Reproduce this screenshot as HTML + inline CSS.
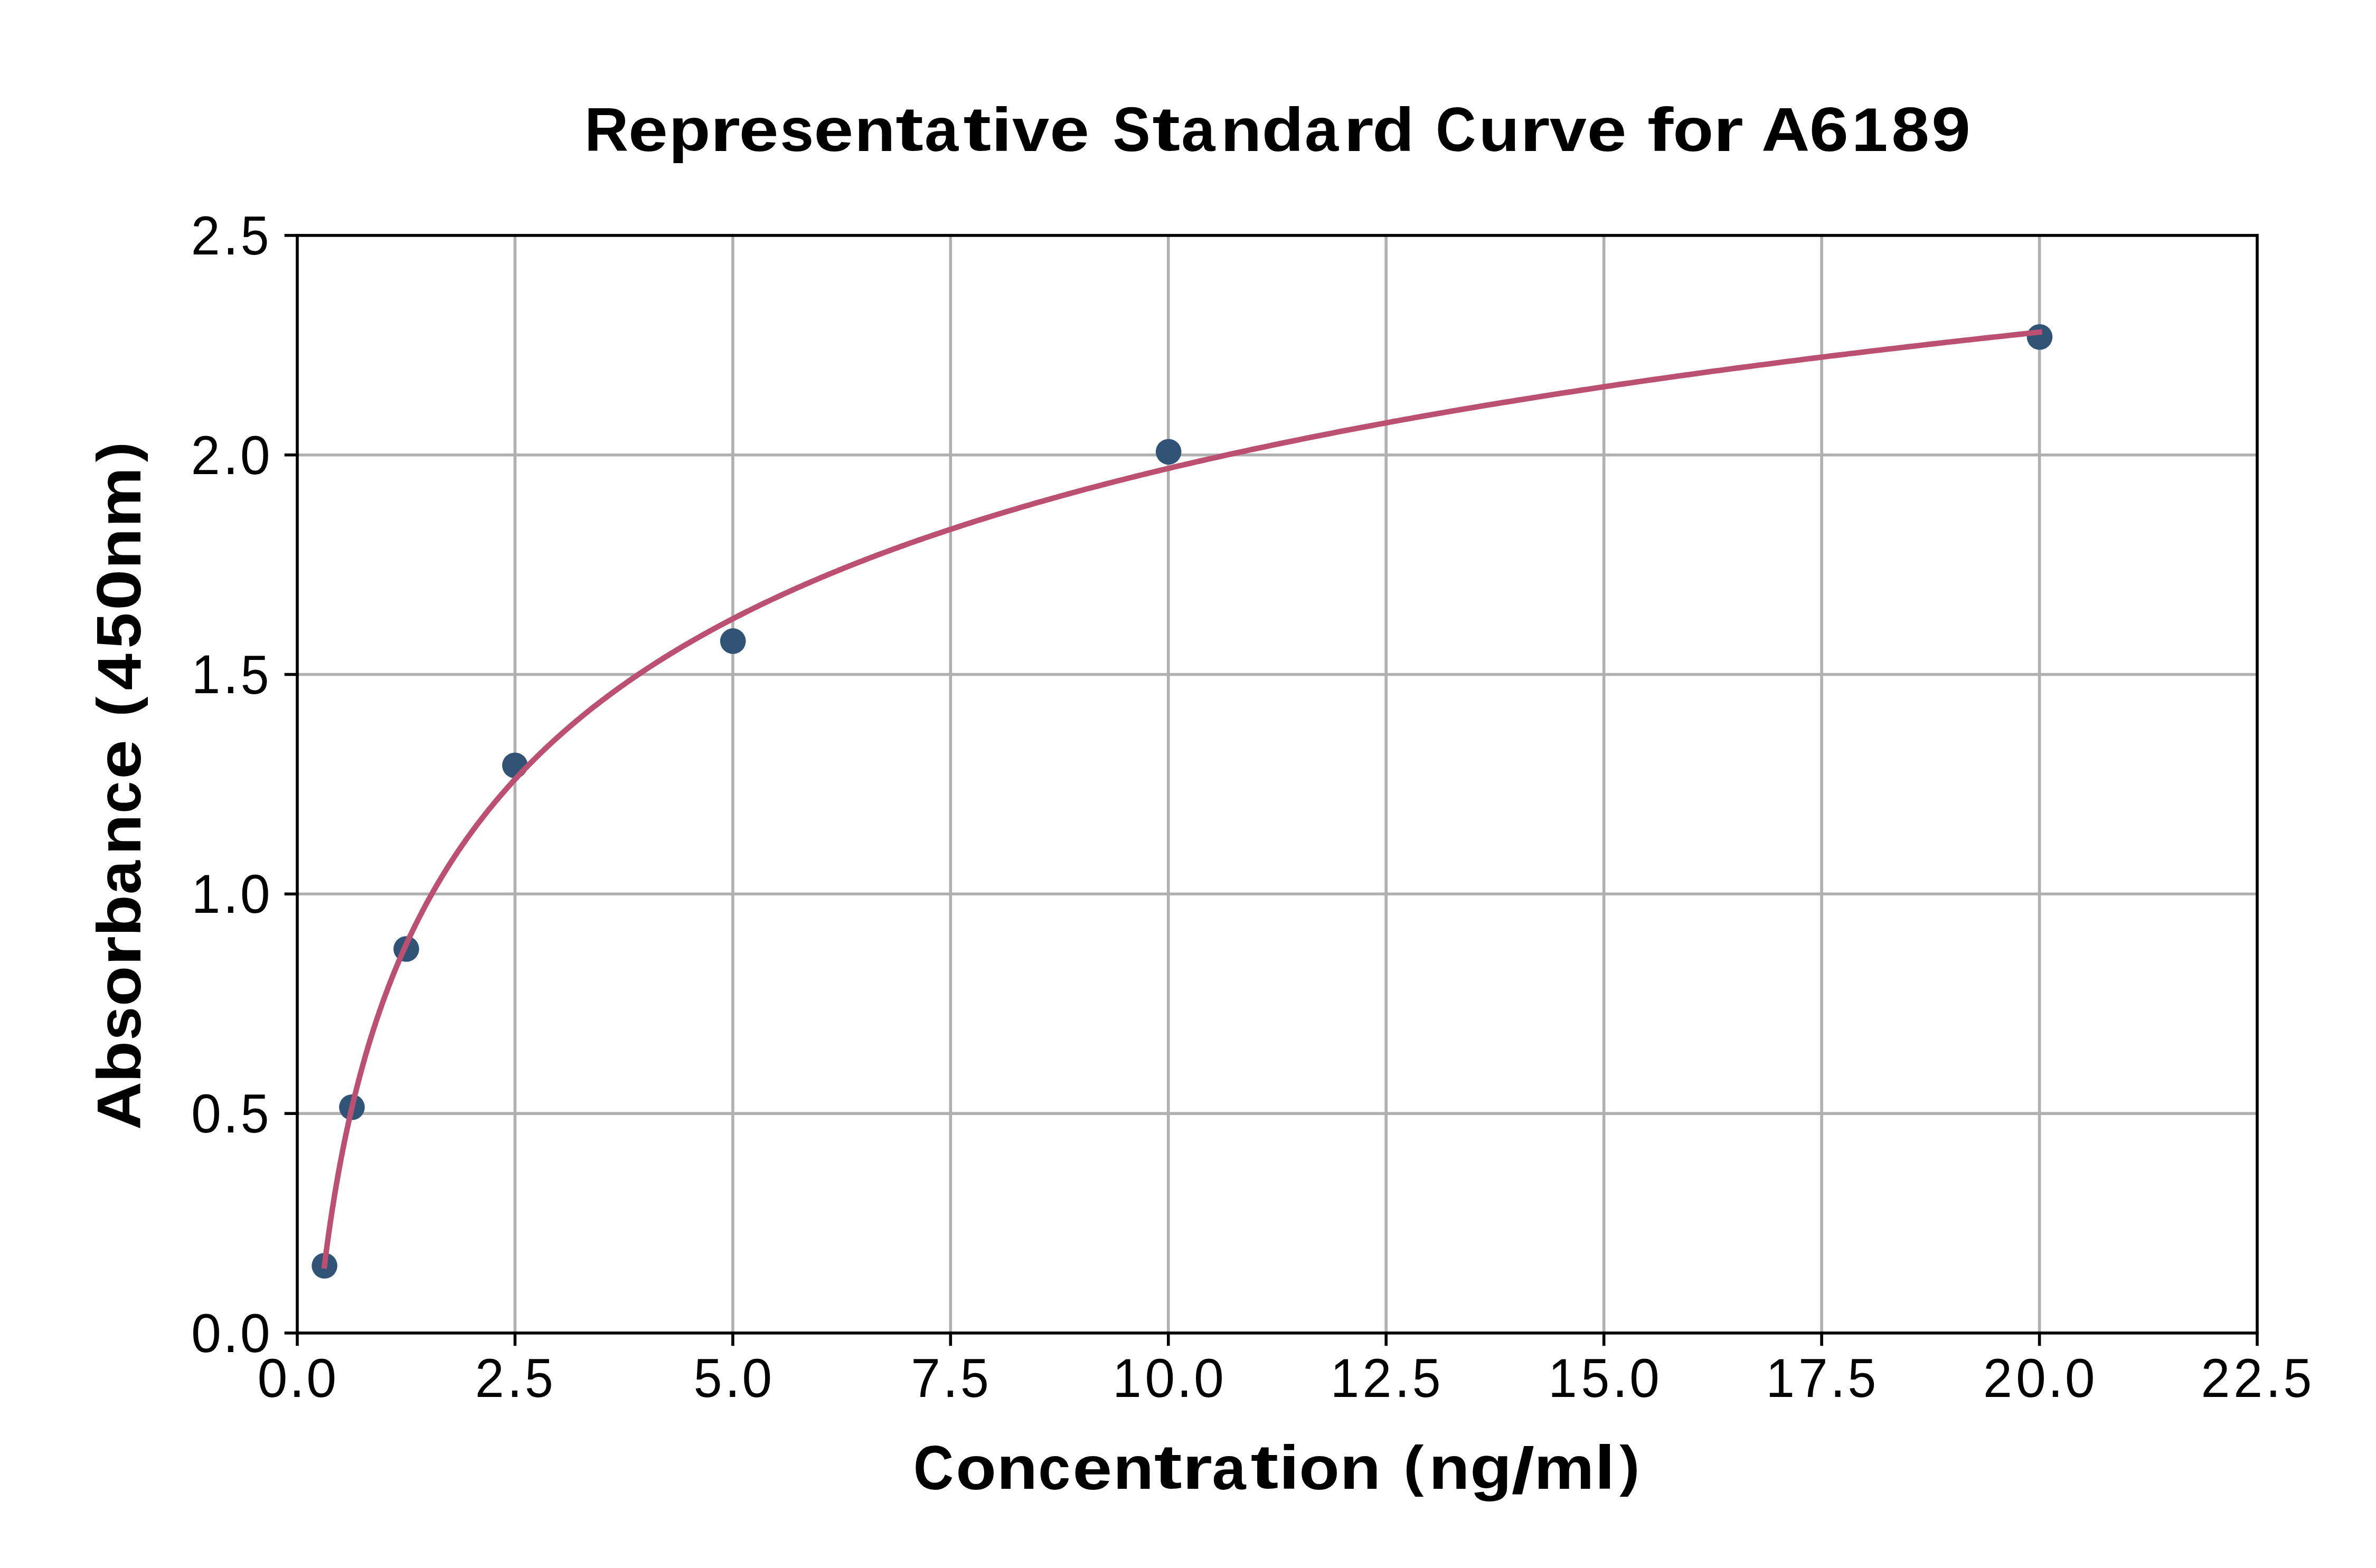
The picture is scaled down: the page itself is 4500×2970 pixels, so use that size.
<!DOCTYPE html>
<html><head><meta charset="utf-8"><title>Representative Standard Curve for A6189</title><style>
html,body{margin:0;padding:0;background:#fff;overflow:hidden;}
svg{display:block;}
text{font-family:"Liberation Sans",sans-serif;fill:#000;}
</style></head><body>
<svg width="4500" height="2970" viewBox="0 0 4500 2970">
<rect width="4500" height="2970" fill="#fff"/>
<g stroke="#b0b0b0" stroke-width="5.6"><line x1="975.4" y1="445.9" x2="975.4" y2="2524.9"/><line x1="1387.9" y1="445.9" x2="1387.9" y2="2524.9"/><line x1="1800.3" y1="445.9" x2="1800.3" y2="2524.9"/><line x1="2212.8" y1="445.9" x2="2212.8" y2="2524.9"/><line x1="2625.2" y1="445.9" x2="2625.2" y2="2524.9"/><line x1="3037.7" y1="445.9" x2="3037.7" y2="2524.9"/><line x1="3450.1" y1="445.9" x2="3450.1" y2="2524.9"/><line x1="3862.6" y1="445.9" x2="3862.6" y2="2524.9"/><line x1="563.0" y1="2109.1" x2="4275.0" y2="2109.1"/><line x1="563.0" y1="1693.3" x2="4275.0" y2="1693.3"/><line x1="563.0" y1="1277.5" x2="4275.0" y2="1277.5"/><line x1="563.0" y1="861.7" x2="4275.0" y2="861.7"/></g>
<g fill="#315376"><circle cx="614.6" cy="2397.5" r="24.3"/><circle cx="666.5" cy="2097.2" r="24.3"/><circle cx="769.5" cy="1797.5" r="24.3"/><circle cx="975.3" cy="1449.8" r="24.3"/><circle cx="1388.2" cy="1214.4" r="24.3"/><circle cx="2213.2" cy="855.7" r="24.3"/><circle cx="3863" cy="638.3" r="24.3"/></g>
<polyline fill="none" stroke="#bc5073" stroke-width="10.4" stroke-linejoin="round" stroke-linecap="butt" points="613.8,2402.9 614.0,2401.0 614.3,2399.0 614.5,2397.1 614.8,2395.2 615.0,2393.3 615.2,2391.3 615.5,2389.4 615.7,2387.5 616.0,2385.5 616.2,2383.6 616.5,2381.7 616.7,2379.8 617.0,2377.8 617.2,2375.9 617.5,2373.9 617.7,2372.0 618.0,2370.1 618.2,2368.1 618.5,2366.2 618.8,2364.3 619.0,2362.3 619.3,2360.4 619.5,2358.4 619.8,2356.5 620.1,2354.5 620.3,2352.6 620.6,2350.6 620.9,2348.7 621.1,2346.7 621.4,2344.8 621.7,2342.8 622.0,2340.9 622.2,2338.9 622.5,2337.0 622.8,2335.0 623.1,2333.1 623.3,2331.1 623.6,2329.2 623.9,2327.2 624.2,2325.2 624.5,2323.3 624.8,2321.3 625.0,2319.4 625.3,2317.4 625.6,2315.4 625.9,2313.5 626.2,2311.5 626.5,2309.5 626.8,2307.6 627.1,2305.6 627.4,2303.6 627.7,2301.7 628.0,2299.7 628.3,2297.7 628.6,2295.7 628.9,2293.8 629.2,2291.8 629.5,2289.8 629.8,2287.8 630.1,2285.9 630.5,2283.9 630.8,2281.9 631.1,2279.9 631.4,2277.9 631.7,2276.0 632.0,2274.0 632.4,2272.0 632.7,2270.0 633.0,2268.0 633.3,2266.0 633.7,2264.0 634.0,2262.1 634.3,2260.1 634.7,2258.1 635.0,2256.1 635.3,2254.1 635.7,2252.1 636.0,2250.1 636.3,2248.1 636.7,2246.1 637.0,2244.1 637.4,2242.1 637.7,2240.1 638.1,2238.1 638.4,2236.1 638.8,2234.1 639.1,2232.1 639.5,2230.1 639.8,2228.1 640.2,2226.1 640.5,2224.1 640.9,2222.1 641.3,2220.1 641.6,2218.1 642.0,2216.1 642.4,2214.1 642.7,2212.1 643.1,2210.1 643.5,2208.1 643.8,2206.0 644.2,2204.0 644.6,2202.0 645.0,2200.0 645.4,2198.0 645.7,2196.0 646.1,2194.0 646.5,2191.9 646.9,2189.9 647.3,2187.9 647.7,2185.9 648.1,2183.9 648.5,2181.9 648.9,2179.8 649.3,2177.8 649.7,2175.8 650.1,2173.8 650.5,2171.7 650.9,2169.7 651.3,2167.7 651.7,2165.7 652.1,2163.6 652.5,2161.6 653.0,2159.6 653.4,2157.6 653.8,2155.5 654.2,2153.5 654.6,2151.5 655.1,2149.4 655.5,2147.4 655.9,2145.4 656.4,2143.3 656.8,2141.3 657.2,2139.3 657.7,2137.2 658.1,2135.2 658.6,2133.2 659.0,2131.1 659.4,2129.1 659.9,2127.0 660.3,2125.0 660.8,2123.0 661.3,2120.9 661.7,2118.9 662.2,2116.8 662.6,2114.8 663.1,2112.8 663.6,2110.7 664.0,2108.7 664.5,2106.6 665.0,2104.6 665.5,2102.5 665.9,2100.5 666.4,2098.4 666.9,2096.4 667.4,2094.3 667.9,2092.3 668.3,2090.2 668.8,2088.2 669.3,2086.1 669.8,2084.1 670.3,2082.0 670.8,2080.0 671.3,2077.9 671.8,2075.9 672.3,2073.8 672.8,2071.8 673.4,2069.7 673.9,2067.7 674.4,2065.6 674.9,2063.5 675.4,2061.5 675.9,2059.4 676.5,2057.4 677.0,2055.3 677.5,2053.2 678.1,2051.2 678.6,2049.1 679.1,2047.1 679.7,2045.0 680.2,2042.9 680.8,2040.9 681.3,2038.8 681.9,2036.7 682.4,2034.7 683.0,2032.6 683.5,2030.5 684.1,2028.5 684.7,2026.4 685.2,2024.3 685.8,2022.3 686.4,2020.2 686.9,2018.1 687.5,2016.1 688.1,2014.0 688.7,2011.9 689.3,2009.9 689.9,2007.8 690.4,2005.7 691.0,2003.6 691.6,2001.6 692.2,1999.5 692.8,1997.4 693.4,1995.3 694.0,1993.3 694.7,1991.2 695.3,1989.1 695.9,1987.0 696.5,1985.0 697.1,1982.9 697.7,1980.8 698.4,1978.7 699.0,1976.7 699.6,1974.6 700.3,1972.5 700.9,1970.4 701.6,1968.3 702.2,1966.3 702.8,1964.2 703.5,1962.1 704.1,1960.0 704.8,1957.9 705.5,1955.9 706.1,1953.8 706.8,1951.7 707.5,1949.6 708.1,1947.5 708.8,1945.4 709.5,1943.4 710.2,1941.3 710.9,1939.2 711.5,1937.1 712.2,1935.0 712.9,1932.9 713.6,1930.8 714.3,1928.8 715.0,1926.7 715.7,1924.6 716.5,1922.5 717.2,1920.4 717.9,1918.3 718.6,1916.2 719.3,1914.1 720.1,1912.0 720.8,1910.0 721.5,1907.9 722.3,1905.8 723.0,1903.7 723.7,1901.6 724.5,1899.5 725.2,1897.4 726.0,1895.3 726.8,1893.2 727.5,1891.1 728.3,1889.0 729.1,1886.9 729.8,1884.9 730.6,1882.8 731.4,1880.7 732.2,1878.6 733.0,1876.5 733.8,1874.4 734.5,1872.3 735.3,1870.2 736.1,1868.1 737.0,1866.0 737.8,1863.9 738.6,1861.8 739.4,1859.7 740.2,1857.6 741.0,1855.5 741.9,1853.4 742.7,1851.3 743.5,1849.2 744.4,1847.1 745.2,1845.0 746.1,1842.9 746.9,1840.8 747.8,1838.7 748.6,1836.6 749.5,1834.5 750.4,1832.4 751.2,1830.3 752.1,1828.2 753.0,1826.2 753.9,1824.1 754.8,1822.0 755.7,1819.9 756.6,1817.8 757.5,1815.7 758.4,1813.6 759.3,1811.5 760.2,1809.3 761.1,1807.2 762.0,1805.1 763.0,1803.0 763.9,1800.9 764.8,1798.8 765.8,1796.7 766.7,1794.6 767.7,1792.5 768.6,1790.4 769.6,1788.3 770.5,1786.2 771.5,1784.1 772.5,1782.0 773.4,1779.9 774.4,1777.8 775.4,1775.7 776.4,1773.6 777.4,1771.5 778.4,1769.4 779.4,1767.3 780.4,1765.2 781.4,1763.1 782.4,1761.0 783.4,1758.9 784.5,1756.8 785.5,1754.7 786.5,1752.6 787.6,1750.5 788.6,1748.4 789.7,1746.3 790.7,1744.2 791.8,1742.1 792.9,1740.0 793.9,1737.9 795.0,1735.8 796.1,1733.7 797.2,1731.6 798.3,1729.5 799.3,1727.3 800.4,1725.2 801.6,1723.1 802.7,1721.0 803.8,1718.9 804.9,1716.8 806.0,1714.7 807.2,1712.6 808.3,1710.5 809.4,1708.4 810.6,1706.3 811.7,1704.2 812.9,1702.1 814.1,1700.0 815.2,1697.9 816.4,1695.8 817.6,1693.7 818.8,1691.6 820.0,1689.5 821.1,1687.4 822.3,1685.3 823.6,1683.2 824.8,1681.1 826.0,1679.0 827.2,1676.9 828.4,1674.8 829.7,1672.7 830.9,1670.6 832.2,1668.5 833.4,1666.4 834.7,1664.3 835.9,1662.1 837.2,1660.0 838.5,1657.9 839.8,1655.8 841.1,1653.7 842.4,1651.6 843.7,1649.5 845.0,1647.4 846.3,1645.3 847.6,1643.2 848.9,1641.1 850.2,1639.0 851.6,1636.9 852.9,1634.8 854.3,1632.7 855.6,1630.6 857.0,1628.5 858.4,1626.4 859.7,1624.3 861.1,1622.2 862.5,1620.1 863.9,1618.0 865.3,1615.9 866.7,1613.8 868.1,1611.7 869.5,1609.6 871.0,1607.5 872.4,1605.4 873.8,1603.3 875.3,1601.2 876.7,1599.1 878.2,1597.1 879.7,1595.0 881.1,1592.9 882.6,1590.8 884.1,1588.7 885.6,1586.6 887.1,1584.5 888.6,1582.4 890.1,1580.3 891.7,1578.2 893.2,1576.1 894.7,1574.0 896.3,1571.9 897.8,1569.8 899.4,1567.7 900.9,1565.6 902.5,1563.5 904.1,1561.4 905.7,1559.3 907.3,1557.2 908.9,1555.2 910.5,1553.1 912.1,1551.0 913.7,1548.9 915.4,1546.8 917.0,1544.7 918.7,1542.6 920.3,1540.5 922.0,1538.4 923.6,1536.3 925.3,1534.2 927.0,1532.2 928.7,1530.1 930.4,1528.0 932.1,1525.9 933.8,1523.8 935.6,1521.7 937.3,1519.6 939.0,1517.5 940.8,1515.5 942.5,1513.4 944.3,1511.3 946.1,1509.2 947.9,1507.1 949.7,1505.0 951.5,1502.9 953.3,1500.9 955.1,1498.8 956.9,1496.7 958.7,1494.6 960.6,1492.5 962.4,1490.4 964.3,1488.4 966.2,1486.3 968.0,1484.2 969.9,1482.1 971.8,1480.0 973.7,1478.0 975.6,1475.9 977.6,1473.8 979.5,1471.7 981.4,1469.6 983.4,1467.6 985.3,1465.5 987.3,1463.4 989.3,1461.3 991.3,1459.3 993.2,1457.2 995.2,1455.1 997.3,1453.0 999.3,1451.0 1001.3,1448.9 1003.4,1446.8 1005.4,1444.7 1007.5,1442.7 1009.5,1440.6 1011.6,1438.5 1013.7,1436.5 1015.8,1434.4 1017.9,1432.3 1020.0,1430.2 1022.1,1428.2 1024.3,1426.1 1026.4,1424.0 1028.6,1422.0 1030.8,1419.9 1032.9,1417.8 1035.1,1415.8 1037.3,1413.7 1039.5,1411.6 1041.7,1409.6 1044.0,1407.5 1046.2,1405.4 1048.5,1403.4 1050.7,1401.3 1053.0,1399.3 1055.3,1397.2 1057.6,1395.1 1059.9,1393.1 1062.2,1391.0 1064.5,1389.0 1066.8,1386.9 1069.2,1384.8 1071.5,1382.8 1073.9,1380.7 1076.3,1378.7 1078.7,1376.6 1081.1,1374.6 1083.5,1372.5 1085.9,1370.4 1088.3,1368.4 1090.8,1366.3 1093.2,1364.3 1095.7,1362.2 1098.2,1360.2 1100.7,1358.1 1103.2,1356.1 1105.7,1354.0 1108.2,1352.0 1110.8,1349.9 1113.3,1347.9 1115.9,1345.8 1118.4,1343.8 1121.0,1341.7 1123.6,1339.7 1126.2,1337.7 1128.9,1335.6 1131.5,1333.6 1134.1,1331.5 1136.8,1329.5 1139.5,1327.4 1142.2,1325.4 1144.9,1323.4 1147.6,1321.3 1150.3,1319.3 1153.0,1317.2 1155.8,1315.2 1158.5,1313.2 1161.3,1311.1 1164.1,1309.1 1166.9,1307.1 1169.7,1305.0 1172.5,1303.0 1175.3,1301.0 1178.2,1298.9 1181.1,1296.9 1183.9,1294.9 1186.8,1292.8 1189.7,1290.8 1192.6,1288.8 1195.6,1286.8 1198.5,1284.7 1201.5,1282.7 1204.5,1280.7 1207.4,1278.6 1210.4,1276.6 1213.5,1274.6 1216.5,1272.6 1219.5,1270.6 1222.6,1268.5 1225.6,1266.5 1228.7,1264.5 1231.8,1262.5 1234.9,1260.5 1238.1,1258.4 1241.2,1256.4 1244.4,1254.4 1247.5,1252.4 1250.7,1250.4 1253.9,1248.4 1257.1,1246.3 1260.4,1244.3 1263.6,1242.3 1266.9,1240.3 1270.2,1238.3 1273.5,1236.3 1276.8,1234.3 1280.1,1232.3 1283.4,1230.3 1286.8,1228.3 1290.1,1226.3 1293.5,1224.2 1296.9,1222.2 1300.3,1220.2 1303.8,1218.2 1307.2,1216.2 1310.7,1214.2 1314.2,1212.2 1317.7,1210.2 1321.2,1208.2 1324.7,1206.2 1328.3,1204.2 1331.8,1202.2 1335.4,1200.3 1339.0,1198.3 1342.6,1196.3 1346.2,1194.3 1349.9,1192.3 1353.5,1190.3 1357.2,1188.3 1360.9,1186.3 1364.6,1184.3 1368.4,1182.3 1372.1,1180.3 1375.9,1178.4 1379.7,1176.4 1383.5,1174.4 1387.3,1172.4 1391.1,1170.4 1395.0,1168.4 1398.8,1166.5 1402.7,1164.5 1406.6,1162.5 1410.6,1160.5 1414.5,1158.5 1418.5,1156.6 1422.5,1154.6 1426.5,1152.6 1430.5,1150.6 1434.5,1148.7 1438.6,1146.7 1442.6,1144.7 1446.7,1142.8 1450.9,1140.8 1455.0,1138.8 1459.1,1136.9 1463.3,1134.9 1467.5,1132.9 1471.7,1131.0 1475.9,1129.0 1480.2,1127.0 1484.5,1125.1 1488.8,1123.1 1493.1,1121.2 1497.4,1119.2 1501.7,1117.2 1506.1,1115.3 1510.5,1113.3 1514.9,1111.4 1519.3,1109.4 1523.8,1107.5 1528.3,1105.5 1532.8,1103.6 1537.3,1101.6 1541.8,1099.7 1546.4,1097.7 1550.9,1095.8 1555.5,1093.8 1560.2,1091.9 1564.8,1089.9 1569.5,1088.0 1574.1,1086.0 1578.9,1084.1 1583.6,1082.2 1588.3,1080.2 1593.1,1078.3 1597.9,1076.3 1602.7,1074.4 1607.6,1072.5 1612.4,1070.5 1617.3,1068.6 1622.2,1066.7 1627.1,1064.7 1632.1,1062.8 1637.1,1060.9 1642.1,1058.9 1647.1,1057.0 1652.1,1055.1 1657.2,1053.2 1662.3,1051.2 1667.4,1049.3 1672.6,1047.4 1677.7,1045.5 1682.9,1043.6 1688.1,1041.6 1693.4,1039.7 1698.6,1037.8 1703.9,1035.9 1709.2,1034.0 1714.6,1032.1 1719.9,1030.1 1725.3,1028.2 1730.7,1026.3 1736.1,1024.4 1741.6,1022.5 1747.1,1020.6 1752.6,1018.7 1758.1,1016.8 1763.7,1014.9 1769.3,1013.0 1774.9,1011.1 1780.6,1009.2 1786.2,1007.3 1791.9,1005.4 1797.6,1003.5 1803.4,1001.6 1809.2,999.7 1815.0,997.8 1820.8,995.9 1826.6,994.0 1832.5,992.1 1838.4,990.2 1844.4,988.3 1850.3,986.4 1856.3,984.6 1862.3,982.7 1868.4,980.8 1874.5,978.9 1880.6,977.0 1886.7,975.1 1892.9,973.3 1899.1,971.4 1905.3,969.5 1911.5,967.6 1917.8,965.7 1924.1,963.9 1930.4,962.0 1936.8,960.1 1943.2,958.2 1949.6,956.4 1956.1,954.5 1962.6,952.6 1969.1,950.8 1975.6,948.9 1982.2,947.0 1988.8,945.2 1995.4,943.3 2002.1,941.5 2008.8,939.6 2015.5,937.7 2022.3,935.9 2029.1,934.0 2035.9,932.2 2042.8,930.3 2049.7,928.5 2056.6,926.6 2063.5,924.8 2070.5,922.9 2077.5,921.1 2084.6,919.2 2091.7,917.4 2098.8,915.5 2105.9,913.7 2113.1,911.8 2120.3,910.0 2127.6,908.2 2134.9,906.3 2142.2,904.5 2149.5,902.6 2156.9,900.8 2164.3,899.0 2171.8,897.1 2179.3,895.3 2186.8,893.5 2194.4,891.6 2201.9,889.8 2209.6,888.0 2217.2,886.2 2224.9,884.3 2232.7,882.5 2240.4,880.7 2248.3,878.9 2256.1,877.1 2264.0,875.2 2271.9,873.4 2279.9,871.6 2287.8,869.8 2295.9,868.0 2303.9,866.2 2312.0,864.4 2320.2,862.5 2328.4,860.7 2336.6,858.9 2344.8,857.1 2353.1,855.3 2361.5,853.5 2369.8,851.7 2378.2,849.9 2386.7,848.1 2395.2,846.3 2403.7,844.5 2412.3,842.7 2420.9,840.9 2429.5,839.1 2438.2,837.3 2447.0,835.6 2455.7,833.8 2464.5,832.0 2473.4,830.2 2482.3,828.4 2491.2,826.6 2500.2,824.8 2509.2,823.1 2518.3,821.3 2527.4,819.5 2536.5,817.7 2545.7,815.9 2554.9,814.2 2564.2,812.4 2573.5,810.6 2582.9,808.8 2592.3,807.1 2601.7,805.3 2611.2,803.5 2620.7,801.8 2630.3,800.0 2639.9,798.2 2649.6,796.5 2659.3,794.7 2669.1,793.0 2678.9,791.2 2688.7,789.4 2698.6,787.7 2708.6,785.9 2718.5,784.2 2728.6,782.4 2738.7,780.7 2748.8,778.9 2759.0,777.2 2769.2,775.4 2779.5,773.7 2789.8,771.9 2800.1,770.2 2810.6,768.4 2821.0,766.7 2831.5,765.0 2842.1,763.2 2852.7,761.5 2863.3,759.8 2874.1,758.0 2884.8,756.3 2895.6,754.6 2906.5,752.8 2917.4,751.1 2928.3,749.4 2939.4,747.6 2950.4,745.9 2961.5,744.2 2972.7,742.5 2983.9,740.8 2995.2,739.0 3006.5,737.3 3017.9,735.6 3029.3,733.9 3040.8,732.2 3052.3,730.5 3063.9,728.7 3075.5,727.0 3087.2,725.3 3099.0,723.6 3110.8,721.9 3122.7,720.2 3134.6,718.5 3146.5,716.8 3158.6,715.1 3170.6,713.4 3182.8,711.7 3195.0,710.0 3207.2,708.3 3219.5,706.6 3231.9,704.9 3244.3,703.2 3256.8,701.6 3269.3,699.9 3281.9,698.2 3294.6,696.5 3307.3,694.8 3320.1,693.1 3332.9,691.4 3345.8,689.8 3358.8,688.1 3371.8,686.4 3384.9,684.7 3398.0,683.1 3411.2,681.4 3424.4,679.7 3437.8,678.0 3451.1,676.4 3464.6,674.7 3478.1,673.0 3491.7,671.4 3505.3,669.7 3519.0,668.1 3532.7,666.4 3546.6,664.7 3560.5,663.1 3574.4,661.4 3588.4,659.8 3602.5,658.1 3616.7,656.5 3630.9,654.8 3645.2,653.2 3659.5,651.5 3673.9,649.9 3688.4,648.2 3702.9,646.6 3717.6,644.9 3732.2,643.3 3747.0,641.7 3761.8,640.0 3776.7,638.4 3791.7,636.8 3806.7,635.1 3821.8,633.5 3837.0,631.9 3852.2,630.2 3867.5,628.6"/>
<g stroke="#000" stroke-width="5.6" fill="none">
<rect x="563.0" y="445.9" width="3712.0" height="2079.0"/>
<line x1="563.0" y1="2522.1" x2="563.0" y2="2549.2"/><line x1="975.4" y1="2522.1" x2="975.4" y2="2549.2"/><line x1="1387.9" y1="2522.1" x2="1387.9" y2="2549.2"/><line x1="1800.3" y1="2522.1" x2="1800.3" y2="2549.2"/><line x1="2212.8" y1="2522.1" x2="2212.8" y2="2549.2"/><line x1="2625.2" y1="2522.1" x2="2625.2" y2="2549.2"/><line x1="3037.7" y1="2522.1" x2="3037.7" y2="2549.2"/><line x1="3450.1" y1="2522.1" x2="3450.1" y2="2549.2"/><line x1="3862.6" y1="2522.1" x2="3862.6" y2="2549.2"/><line x1="4275.0" y1="2522.1" x2="4275.0" y2="2549.2"/><line x1="538.7" y1="2524.9" x2="565.8" y2="2524.9"/><line x1="538.7" y1="2109.1" x2="565.8" y2="2109.1"/><line x1="538.7" y1="1693.3" x2="565.8" y2="1693.3"/><line x1="538.7" y1="1277.5" x2="565.8" y2="1277.5"/><line x1="538.7" y1="861.7" x2="565.8" y2="861.7"/><line x1="538.7" y1="445.9" x2="565.8" y2="445.9"/>
</g>
<text transform="translate(0,2646.1)" font-size="103" ><tspan x="487.60" y="0.36" font-size="103.86" textLength="57.00" lengthAdjust="spacingAndGlyphs">0</tspan><tspan x="547.84" y="-0.00" font-size="112.76" textLength="29.23" lengthAdjust="spacingAndGlyphs">.</tspan><tspan x="580.36" y="0.36" font-size="103.86" textLength="57.00" lengthAdjust="spacingAndGlyphs">0</tspan></text><text transform="translate(0,2646.1)" font-size="103" ><tspan x="899.79" y="0.00" font-size="103.34" textLength="54.94" lengthAdjust="spacingAndGlyphs">2</tspan><tspan x="960.28" y="-0.00" font-size="112.76" textLength="29.23" lengthAdjust="spacingAndGlyphs">.</tspan><tspan x="994.02" y="0.37" font-size="103.55" textLength="53.79" lengthAdjust="spacingAndGlyphs">5</tspan></text><text transform="translate(0,2646.1)" font-size="103" ><tspan x="1313.71" y="0.37" font-size="103.55" textLength="53.79" lengthAdjust="spacingAndGlyphs">5</tspan><tspan x="1372.73" y="-0.00" font-size="112.76" textLength="29.23" lengthAdjust="spacingAndGlyphs">.</tspan><tspan x="1405.25" y="0.36" font-size="103.86" textLength="57.00" lengthAdjust="spacingAndGlyphs">0</tspan></text><text transform="translate(0,2646.1)" font-size="103" ><tspan x="1725.36" y="0.00" font-size="103.02" textLength="55.75" lengthAdjust="spacingAndGlyphs">7</tspan><tspan x="1785.17" y="-0.00" font-size="112.76" textLength="29.23" lengthAdjust="spacingAndGlyphs">.</tspan><tspan x="1818.91" y="0.37" font-size="103.55" textLength="53.79" lengthAdjust="spacingAndGlyphs">5</tspan></text><text transform="translate(0,2646.1)" font-size="103" ><tspan x="2107.27" y="0.00" font-size="103.02" textLength="54.44" lengthAdjust="spacingAndGlyphs">1</tspan><tspan x="2168.30" y="0.36" font-size="103.86" textLength="57.00" lengthAdjust="spacingAndGlyphs">0</tspan><tspan x="2228.54" y="-0.00" font-size="112.76" textLength="29.23" lengthAdjust="spacingAndGlyphs">.</tspan><tspan x="2261.06" y="0.36" font-size="103.86" textLength="57.00" lengthAdjust="spacingAndGlyphs">0</tspan></text><text transform="translate(0,2646.1)" font-size="103" ><tspan x="2519.71" y="0.00" font-size="103.02" textLength="54.44" lengthAdjust="spacingAndGlyphs">1</tspan><tspan x="2580.50" y="0.00" font-size="103.34" textLength="54.94" lengthAdjust="spacingAndGlyphs">2</tspan><tspan x="2640.99" y="-0.00" font-size="112.76" textLength="29.23" lengthAdjust="spacingAndGlyphs">.</tspan><tspan x="2674.73" y="0.37" font-size="103.55" textLength="53.79" lengthAdjust="spacingAndGlyphs">5</tspan></text><text transform="translate(0,2646.1)" font-size="103" ><tspan x="2932.16" y="0.00" font-size="103.02" textLength="54.44" lengthAdjust="spacingAndGlyphs">1</tspan><tspan x="2994.42" y="0.37" font-size="103.55" textLength="53.79" lengthAdjust="spacingAndGlyphs">5</tspan><tspan x="3053.43" y="-0.00" font-size="112.76" textLength="29.23" lengthAdjust="spacingAndGlyphs">.</tspan><tspan x="3085.95" y="0.36" font-size="103.86" textLength="57.00" lengthAdjust="spacingAndGlyphs">0</tspan></text><text transform="translate(0,2646.1)" font-size="103" ><tspan x="3344.60" y="0.00" font-size="103.02" textLength="54.44" lengthAdjust="spacingAndGlyphs">1</tspan><tspan x="3406.07" y="0.00" font-size="103.02" textLength="55.75" lengthAdjust="spacingAndGlyphs">7</tspan><tspan x="3465.88" y="-0.00" font-size="112.76" textLength="29.23" lengthAdjust="spacingAndGlyphs">.</tspan><tspan x="3499.62" y="0.37" font-size="103.55" textLength="53.79" lengthAdjust="spacingAndGlyphs">5</tspan></text><text transform="translate(0,2646.1)" font-size="103" ><tspan x="3755.97" y="0.00" font-size="103.34" textLength="54.94" lengthAdjust="spacingAndGlyphs">2</tspan><tspan x="3818.08" y="0.36" font-size="103.86" textLength="57.00" lengthAdjust="spacingAndGlyphs">0</tspan><tspan x="3878.32" y="-0.00" font-size="112.76" textLength="29.23" lengthAdjust="spacingAndGlyphs">.</tspan><tspan x="3910.84" y="0.36" font-size="103.86" textLength="57.00" lengthAdjust="spacingAndGlyphs">0</tspan></text><text transform="translate(0,2646.1)" font-size="103" ><tspan x="4168.42" y="0.00" font-size="103.34" textLength="54.94" lengthAdjust="spacingAndGlyphs">2</tspan><tspan x="4230.27" y="0.00" font-size="103.34" textLength="54.94" lengthAdjust="spacingAndGlyphs">2</tspan><tspan x="4290.77" y="-0.00" font-size="112.76" textLength="29.23" lengthAdjust="spacingAndGlyphs">.</tspan><tspan x="4324.51" y="0.37" font-size="103.55" textLength="53.79" lengthAdjust="spacingAndGlyphs">5</tspan></text><text transform="translate(0,2560.70)" font-size="103" ><tspan x="361.89" y="0.36" font-size="103.86" textLength="57.00" lengthAdjust="spacingAndGlyphs">0</tspan><tspan x="422.13" y="-0.00" font-size="112.76" textLength="29.23" lengthAdjust="spacingAndGlyphs">.</tspan><tspan x="454.65" y="0.36" font-size="103.86" textLength="57.00" lengthAdjust="spacingAndGlyphs">0</tspan></text><text transform="translate(0,2144.90)" font-size="103" ><tspan x="361.89" y="0.36" font-size="103.86" textLength="57.00" lengthAdjust="spacingAndGlyphs">0</tspan><tspan x="422.13" y="-0.00" font-size="112.76" textLength="29.23" lengthAdjust="spacingAndGlyphs">.</tspan><tspan x="455.87" y="0.37" font-size="103.55" textLength="53.79" lengthAdjust="spacingAndGlyphs">5</tspan></text><text transform="translate(0,1729.10)" font-size="103" ><tspan x="362.71" y="0.00" font-size="103.02" textLength="54.44" lengthAdjust="spacingAndGlyphs">1</tspan><tspan x="422.13" y="-0.00" font-size="112.76" textLength="29.23" lengthAdjust="spacingAndGlyphs">.</tspan><tspan x="454.65" y="0.36" font-size="103.86" textLength="57.00" lengthAdjust="spacingAndGlyphs">0</tspan></text><text transform="translate(0,1313.30)" font-size="103" ><tspan x="362.71" y="0.00" font-size="103.02" textLength="54.44" lengthAdjust="spacingAndGlyphs">1</tspan><tspan x="422.13" y="-0.00" font-size="112.76" textLength="29.23" lengthAdjust="spacingAndGlyphs">.</tspan><tspan x="455.87" y="0.37" font-size="103.55" textLength="53.79" lengthAdjust="spacingAndGlyphs">5</tspan></text><text transform="translate(0,897.50)" font-size="103" ><tspan x="361.64" y="0.00" font-size="103.34" textLength="54.94" lengthAdjust="spacingAndGlyphs">2</tspan><tspan x="422.13" y="-0.00" font-size="112.76" textLength="29.23" lengthAdjust="spacingAndGlyphs">.</tspan><tspan x="454.65" y="0.36" font-size="103.86" textLength="57.00" lengthAdjust="spacingAndGlyphs">0</tspan></text><text transform="translate(0,481.70)" font-size="103" ><tspan x="361.64" y="0.00" font-size="103.34" textLength="54.94" lengthAdjust="spacingAndGlyphs">2</tspan><tspan x="422.13" y="-0.00" font-size="112.76" textLength="29.23" lengthAdjust="spacingAndGlyphs">.</tspan><tspan x="455.87" y="0.37" font-size="103.55" textLength="53.79" lengthAdjust="spacingAndGlyphs">5</tspan></text><text transform="translate(0,285.7)" font-size="116.5" font-weight="bold" ><tspan x="1107.08" y="0.00" font-size="117.73" textLength="83.29" lengthAdjust="spacingAndGlyphs">R</tspan><tspan x="1189.73" y="0.44" font-size="116.46" textLength="75.18" lengthAdjust="spacingAndGlyphs">e</tspan><tspan x="1266.47" y="-0.59" font-size="114.23" textLength="79.13" lengthAdjust="spacingAndGlyphs">p</tspan><tspan x="1344.96" y="0.00" font-size="115.54" textLength="57.07" lengthAdjust="spacingAndGlyphs">r</tspan><tspan x="1399.64" y="0.44" font-size="116.46" textLength="75.18" lengthAdjust="spacingAndGlyphs">e</tspan><tspan x="1477.29" y="0.44" font-size="116.35" textLength="63.94" lengthAdjust="spacingAndGlyphs">s</tspan><tspan x="1541.28" y="0.44" font-size="116.46" textLength="75.18" lengthAdjust="spacingAndGlyphs">e</tspan><tspan x="1618.21" y="0.00" font-size="115.54" textLength="77.35" lengthAdjust="spacingAndGlyphs">n</tspan><tspan x="1695.92" y="-1.04" font-size="118.00" textLength="53.04" lengthAdjust="spacingAndGlyphs">t</tspan><tspan x="1750.97" y="0.44" font-size="116.46" textLength="64.18" lengthAdjust="spacingAndGlyphs">a</tspan><tspan x="1824.15" y="-1.04" font-size="118.00" textLength="53.04" lengthAdjust="spacingAndGlyphs">t</tspan><tspan x="1877.24" y="0.00" font-size="116.50" textLength="39.37" lengthAdjust="spacingAndGlyphs">i</tspan><tspan x="1917.11" y="0.00" font-size="115.01" textLength="70.24" lengthAdjust="spacingAndGlyphs">v</tspan><tspan x="1987.92" y="0.44" font-size="116.46" textLength="75.18" lengthAdjust="spacingAndGlyphs">e</tspan> <tspan x="2107.49" y="0.41" font-size="118.70" textLength="71.22" lengthAdjust="spacingAndGlyphs">S</tspan><tspan x="2182.21" y="-1.04" font-size="118.00" textLength="53.04" lengthAdjust="spacingAndGlyphs">t</tspan><tspan x="2237.26" y="0.44" font-size="116.46" textLength="64.18" lengthAdjust="spacingAndGlyphs">a</tspan><tspan x="2311.91" y="0.00" font-size="115.54" textLength="77.35" lengthAdjust="spacingAndGlyphs">n</tspan><tspan x="2389.78" y="0.43" font-size="117.09" textLength="79.13" lengthAdjust="spacingAndGlyphs">d</tspan><tspan x="2471.11" y="0.44" font-size="116.46" textLength="64.18" lengthAdjust="spacingAndGlyphs">a</tspan><tspan x="2544.45" y="0.00" font-size="115.54" textLength="57.07" lengthAdjust="spacingAndGlyphs">r</tspan><tspan x="2599.31" y="0.43" font-size="117.09" textLength="79.13" lengthAdjust="spacingAndGlyphs">d</tspan> <tspan x="2719.18" y="0.41" font-size="118.70" textLength="76.18" lengthAdjust="spacingAndGlyphs">C</tspan><tspan x="2800.43" y="0.44" font-size="115.85" textLength="77.35" lengthAdjust="spacingAndGlyphs">u</tspan><tspan x="2878.45" y="0.00" font-size="115.54" textLength="57.07" lengthAdjust="spacingAndGlyphs">r</tspan><tspan x="2934.82" y="0.00" font-size="115.01" textLength="70.24" lengthAdjust="spacingAndGlyphs">v</tspan><tspan x="3005.63" y="0.44" font-size="116.46" textLength="75.18" lengthAdjust="spacingAndGlyphs">e</tspan> <tspan x="3119.87" y="0.00" font-size="116.50" textLength="49.50" lengthAdjust="spacingAndGlyphs">f</tspan><tspan x="3168.56" y="0.44" font-size="116.46" textLength="76.66" lengthAdjust="spacingAndGlyphs">o</tspan><tspan x="3244.77" y="0.00" font-size="115.54" textLength="57.07" lengthAdjust="spacingAndGlyphs">r</tspan> <tspan x="3336.06" y="0.00" font-size="117.73" textLength="91.49" lengthAdjust="spacingAndGlyphs">A</tspan><tspan x="3426.76" y="0.42" font-size="118.54" textLength="74.23" lengthAdjust="spacingAndGlyphs">6</tspan><tspan x="3506.95" y="0.00" font-size="117.73" textLength="68.35" lengthAdjust="spacingAndGlyphs">1</tspan><tspan x="3582.23" y="0.41" font-size="118.70" textLength="71.77" lengthAdjust="spacingAndGlyphs">8</tspan><tspan x="3658.06" y="0.42" font-size="118.54" textLength="74.08" lengthAdjust="spacingAndGlyphs">9</tspan></text><text transform="translate(0,2820.1)" font-size="116.5" font-weight="bold" ><tspan x="1729.98" y="0.41" font-size="118.70" textLength="76.12" lengthAdjust="spacingAndGlyphs">C</tspan><tspan x="1810.20" y="0.44" font-size="116.46" textLength="76.60" lengthAdjust="spacingAndGlyphs">o</tspan><tspan x="1887.67" y="0.00" font-size="115.54" textLength="77.29" lengthAdjust="spacingAndGlyphs">n</tspan><tspan x="1966.28" y="0.44" font-size="116.46" textLength="61.19" lengthAdjust="spacingAndGlyphs">c</tspan><tspan x="2031.18" y="0.44" font-size="116.46" textLength="75.12" lengthAdjust="spacingAndGlyphs">e</tspan><tspan x="2108.05" y="0.00" font-size="115.54" textLength="77.29" lengthAdjust="spacingAndGlyphs">n</tspan><tspan x="2185.70" y="-1.04" font-size="118.00" textLength="53.00" lengthAdjust="spacingAndGlyphs">t</tspan><tspan x="2238.98" y="0.00" font-size="115.54" textLength="57.03" lengthAdjust="spacingAndGlyphs">r</tspan><tspan x="2295.51" y="0.44" font-size="116.46" textLength="64.13" lengthAdjust="spacingAndGlyphs">a</tspan><tspan x="2368.63" y="-1.04" font-size="118.00" textLength="53.00" lengthAdjust="spacingAndGlyphs">t</tspan><tspan x="2421.68" y="0.00" font-size="116.50" textLength="39.34" lengthAdjust="spacingAndGlyphs">i</tspan><tspan x="2460.21" y="0.44" font-size="116.46" textLength="76.60" lengthAdjust="spacingAndGlyphs">o</tspan><tspan x="2537.68" y="0.00" font-size="115.54" textLength="77.29" lengthAdjust="spacingAndGlyphs">n</tspan> <tspan x="2658.34" y="-7.38" font-size="106.16" textLength="38.16" lengthAdjust="spacingAndGlyphs">(</tspan><tspan x="2706.28" y="0.00" font-size="115.54" textLength="77.29" lengthAdjust="spacingAndGlyphs">n</tspan><tspan x="2784.08" y="-0.33" font-size="114.72" textLength="79.22" lengthAdjust="spacingAndGlyphs">g</tspan><tspan x="2862.43" y="7.85" font-size="122.62" textLength="43.66" lengthAdjust="spacingAndGlyphs">/</tspan><tspan x="2905.32" y="0.00" font-size="115.54" textLength="114.22" lengthAdjust="spacingAndGlyphs">m</tspan><tspan x="3019.81" y="0.00" font-size="116.50" textLength="39.34" lengthAdjust="spacingAndGlyphs">l</tspan><tspan x="3067.25" y="-7.38" font-size="106.16" textLength="38.16" lengthAdjust="spacingAndGlyphs">)</tspan></text><text transform="translate(265.8,2137.1) rotate(-90)" font-size="116.5" font-weight="bold" ><tspan x="-3.15" y="0.00" font-size="117.73" textLength="91.38" lengthAdjust="spacingAndGlyphs">A</tspan><tspan x="86.24" y="0.43" font-size="117.09" textLength="79.04" lengthAdjust="spacingAndGlyphs">b</tspan><tspan x="166.67" y="0.44" font-size="116.35" textLength="63.86" lengthAdjust="spacingAndGlyphs">s</tspan><tspan x="230.96" y="0.44" font-size="116.46" textLength="76.57" lengthAdjust="spacingAndGlyphs">o</tspan><tspan x="307.08" y="0.00" font-size="115.54" textLength="57.01" lengthAdjust="spacingAndGlyphs">r</tspan><tspan x="363.00" y="0.43" font-size="117.09" textLength="79.04" lengthAdjust="spacingAndGlyphs">b</tspan><tspan x="443.12" y="0.44" font-size="116.46" textLength="64.11" lengthAdjust="spacingAndGlyphs">a</tspan><tspan x="517.68" y="0.00" font-size="115.54" textLength="77.26" lengthAdjust="spacingAndGlyphs">n</tspan><tspan x="596.25" y="0.44" font-size="116.46" textLength="61.17" lengthAdjust="spacingAndGlyphs">c</tspan><tspan x="661.13" y="0.44" font-size="116.46" textLength="75.09" lengthAdjust="spacingAndGlyphs">e</tspan> <tspan x="779.49" y="-7.38" font-size="106.16" textLength="38.15" lengthAdjust="spacingAndGlyphs">(</tspan><tspan x="829.52" y="0.00" font-size="117.73" textLength="69.78" lengthAdjust="spacingAndGlyphs">4</tspan><tspan x="908.53" y="0.42" font-size="118.34" textLength="68.15" lengthAdjust="spacingAndGlyphs">5</tspan><tspan x="980.80" y="0.41" font-size="118.70" textLength="77.96" lengthAdjust="spacingAndGlyphs">0</tspan><tspan x="1059.32" y="0.00" font-size="115.54" textLength="77.26" lengthAdjust="spacingAndGlyphs">n</tspan><tspan x="1138.17" y="0.00" font-size="115.54" textLength="114.18" lengthAdjust="spacingAndGlyphs">m</tspan><tspan x="1261.96" y="-7.38" font-size="106.16" textLength="38.15" lengthAdjust="spacingAndGlyphs">)</tspan></text>
</svg>
</body></html>
